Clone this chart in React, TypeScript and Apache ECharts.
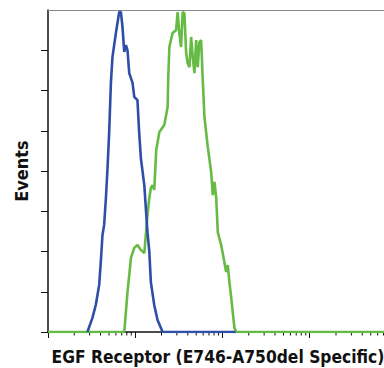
import React, { useEffect, useRef } from "react";
import * as echarts from "echarts";

// Fluorescence intensity (log scale) vs. event counts
const blueIntensity = [2.83, 3.23, 3.53, 3.86, 4.03, 4.21, 4.4, 4.61, 4.81, 5.02, 5.26, 5.48, 6.0, 6.55, 6.85, 7.14, 7.48, 7.82, 8.15, 8.53, 9.31, 9.74, 10.6, 11.1, 11.6, 12.7, 13.8, 14.5, 15.1, 16.5, 18.0, 19.7, 20.6, 141];
const blueCounts = [0, 35, 67, 117, 174, 241, 266, 333, 407, 494, 619, 683, 743, 795, 795, 758, 696, 713, 700, 643, 619, 584, 576, 494, 432, 365, 248, 199, 124, 67, 30, 10, 0, 0];

const greenIntensity = [1, 7.48, 8.15, 8.93, 9.74, 10.6, 11.6, 12.7, 13.3, 13.8, 14.5, 15.1, 15.8, 16.5, 17.4, 18.9, 21.5, 23.5, 23.9, 24.6, 26.8, 29.4, 30.6, 32.0, 33.5, 35.0, 36.6, 38.3, 39.9, 41.8, 43.7, 45.6, 47.7, 49.9, 52.0, 54.4, 56.9, 59.4, 62.1, 67.8, 74.1, 77.4, 80.9, 84.7, 88.3, 96.6, 105, 110, 115, 120, 126, 137, 144, 7096];
const greenCounts = [0, 0, 99, 184, 209, 216, 204, 196, 248, 291, 333, 358, 365, 353, 452, 497, 514, 559, 634, 708, 743, 750, 795, 743, 708, 795, 792, 693, 668, 658, 733, 683, 643, 725, 658, 720, 725, 626, 534, 460, 398, 340, 373, 333, 248, 216, 174, 149, 166, 124, 84, 10, 0, 0];

const xMin = 1;
const xMax = 7096;
const yTicks = [0, 100, 200, 300, 400, 500, 600, 700];
const minorTickValues = [
  2, 3, 4, 5, 6, 7, 8, 9,
  20, 30, 40, 50, 60, 70, 80, 90,
  200, 300, 400, 500, 600, 700, 800, 900,
  2000, 3000, 4000, 5000, 6000, 7000,
];

const xTitle = "EGF Receptor (E746-A750del Specific)";
const yTitle = "Events";
const FONT = "'Liberation Sans Narrow', 'DejaVu Sans Condensed', 'Arial Narrow', sans-serif";

export default function App() {
  const ref = useRef<HTMLDivElement>(null);
  useEffect(() => {
    if (!ref.current) return;
    const chart = echarts.init(ref.current, undefined, { renderer: "svg" });
    const zip = (xs: number[], ys: number[]) => xs.map((x, i) => [x, ys[i]]);
    chart.setOption({
      animation: false,
      backgroundColor: "#ffffff",
      grid: { left: 48, right: 0, top: 10, bottom: 36, containLabel: false, outerBoundsMode: "none" },
      xAxis: [
        {
          type: "log",
          logBase: 10,
          min: xMin,
          max: xMax,
          position: "bottom",
          name: xTitle,
          nameLocation: "middle",
          nameGap: 16,
          nameTextStyle: { fontFamily: FONT, fontWeight: "bold", fontSize: 17.3, color: "#111", verticalAlign: "top", padding: [0, 0, 0, 4] },
          axisLine: { show: true, lineStyle: { color: "#111", width: 1.5 } },
          axisTick: { show: true, inside: false, length: 6, lineStyle: { color: "#111", width: 1 } },
          axisLabel: { show: false },
          splitLine: { show: false },
          minorTick: { show: false },
        },
        {
          type: "log",
          logBase: 10,
          min: xMin,
          max: xMax,
          position: "top",
          axisLine: { show: true, lineStyle: { color: "#888", width: 1 } },
          axisTick: { show: false },
          axisLabel: { show: false },
          splitLine: { show: false },
        },
      ],
      yAxis: {
        type: "value",
        min: 0,
        max: 800,
        interval: 100,
        name: yTitle,
        nameLocation: "middle",
        nameGap: 18,
        nameRotate: 90,
        nameTextStyle: { fontFamily: FONT, fontWeight: "bold", fontSize: 18, color: "#111" },
        axisLine: { show: true, lineStyle: { color: "#111", width: 1.5 } },
        axisTick: { show: true, inside: false, length: 7, customValues: yTicks, lineStyle: { color: "#111", width: 1 } },
        axisLabel: { show: false },
        splitLine: { show: false },
      },
      series: [
        {
          type: "line",
          name: "Green",
          data: zip(greenIntensity, greenCounts),
          showSymbol: false,
          symbol: "none",
          lineStyle: { color: "#66bb44", width: 2.6 },
          z: 2,
        },
        {
          type: "line",
          name: "Blue",
          data: zip(blueIntensity, blueCounts),
          showSymbol: false,
          symbol: "none",
          lineStyle: { color: "#2f4ea8", width: 2.6 },
          z: 3,
        },
        {
          type: "custom",
          name: "minorTicks",
          silent: true,
          clip: false,
          data: minorTickValues.map((v) => [v, 0]),
          renderItem: (_params: any, api: any) => {
            const p = api.coord([api.value(0), 0]);
            return {
              type: "line",
              shape: { x1: p[0], y1: p[1], x2: p[0], y2: p[1] + 3.5 },
              style: { stroke: "#111", lineWidth: 1 },
            };
          },
          z: 1,
        },
      ],
    });
    return () => chart.dispose();
  }, []);
  return <div ref={ref} style={{ position: "fixed", left: 0, top: 0, width: 384, height: 368 }} />;
}
